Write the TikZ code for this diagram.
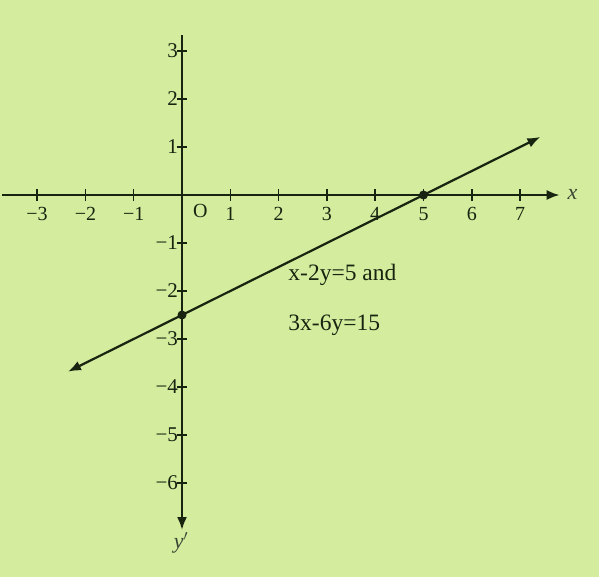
\documentclass[tikz,border=0pt]{standalone}
\usepackage{fontspec}
\setmainfont{Liberation Serif}
\usetikzlibrary{arrows.meta}
\definecolor{bg}{RGB}{212,236,158}
\definecolor{ink}{RGB}{24,36,16}
\tikzset{
  axis/.style={draw=ink, line width=2.3pt},
  graphline/.style={draw=ink, line width=2.2pt},
  tip/.style={-{Latex[length=13pt,width=10pt]}},
  xticklbl/.style={text=ink, font=\fontsize{20}{20}\selectfont, inner sep=0pt},
  yticklbl/.style={text=ink, font=\fontsize{21}{21}\selectfont, inner sep=0pt},
  eqlbl/.style={text=ink, font=\fontsize{23.5}{23.5}\selectfont, inner sep=0pt},
  axlbl/.style={text=ink!85, font=\itshape\fontsize{22}{22}\selectfont, inner sep=0pt},
  dotmark/.style={circle, fill=ink, inner sep=0pt, minimum size=9pt}
}
\begin{document}
\begin{tikzpicture}[x=1pt,y=-1pt]
\fill[bg] (0,0) rectangle (599,577);
\useasboundingbox (0,0) rectangle (599,577);
\begin{scope}[shift={(182,195)}, x=48.3pt, y=48pt]
  % axes
  \coordinate (xl) at (-3.72,0);
  \coordinate (xr) at (7.82,0);
  \coordinate (yt) at (0,3.33);
  \coordinate (yb) at (0,-6.98);
  \draw[axis, tip] (xl) -- (xr);
  \draw[axis] (yt) -- (0,0);
  \draw[axis, tip] (0,0) -- (yb);
  \node[axlbl, anchor=west] (xlab) at (7.98,0.02) {x};
  \node[axlbl] (ylab) at (-0.02,-7.25) {y$'$};
  % x ticks
  \foreach \i in {-3,-2,-1,1,2,3,4,5,6,7}{
    \draw[ink, line width=1.5pt] (\i,0.12) -- (\i,-0.12);
    \node[xticklbl] (xt\i) at (\i,-0.4) {\ifnum\i<0 −\the\numexpr-\i\relax\else\i\fi};
  }
  % y ticks
  \foreach \j in {3,2,1,-1,-2,-3,-4,-5,-6}{
    \draw[ink, line width=1.5pt] (-0.1,\j) -- (0.1,\j);
    \node[yticklbl, anchor=east] (yt\j) at (-0.08,\j) {\ifnum\j<0 −\the\numexpr-\j\relax\else\j\fi};
  }
  \node[xticklbl] (O) at (0.38,-0.34) {O};
  % line x-2y=5
  \coordinate (la) at (-2.36,-3.68);
  \coordinate (lb) at (7.42,1.21);
  \draw[graphline, {Latex[length=13pt,width=10pt]}-{Latex[length=13pt,width=10pt]}] (la) -- (lb);
  \node[dotmark] (p5) at (5,0) {};
  \node[dotmark] (pm) at (0,-2.5) {};
  % labels
  \node[eqlbl, anchor=west] (eq1) at (2.2,-1.66) {x-2y=5 and};
  \node[eqlbl, anchor=west] (eq2) at (2.2,-2.72) {3x-6y=15};
\end{scope}
\end{tikzpicture}
\end{document}
